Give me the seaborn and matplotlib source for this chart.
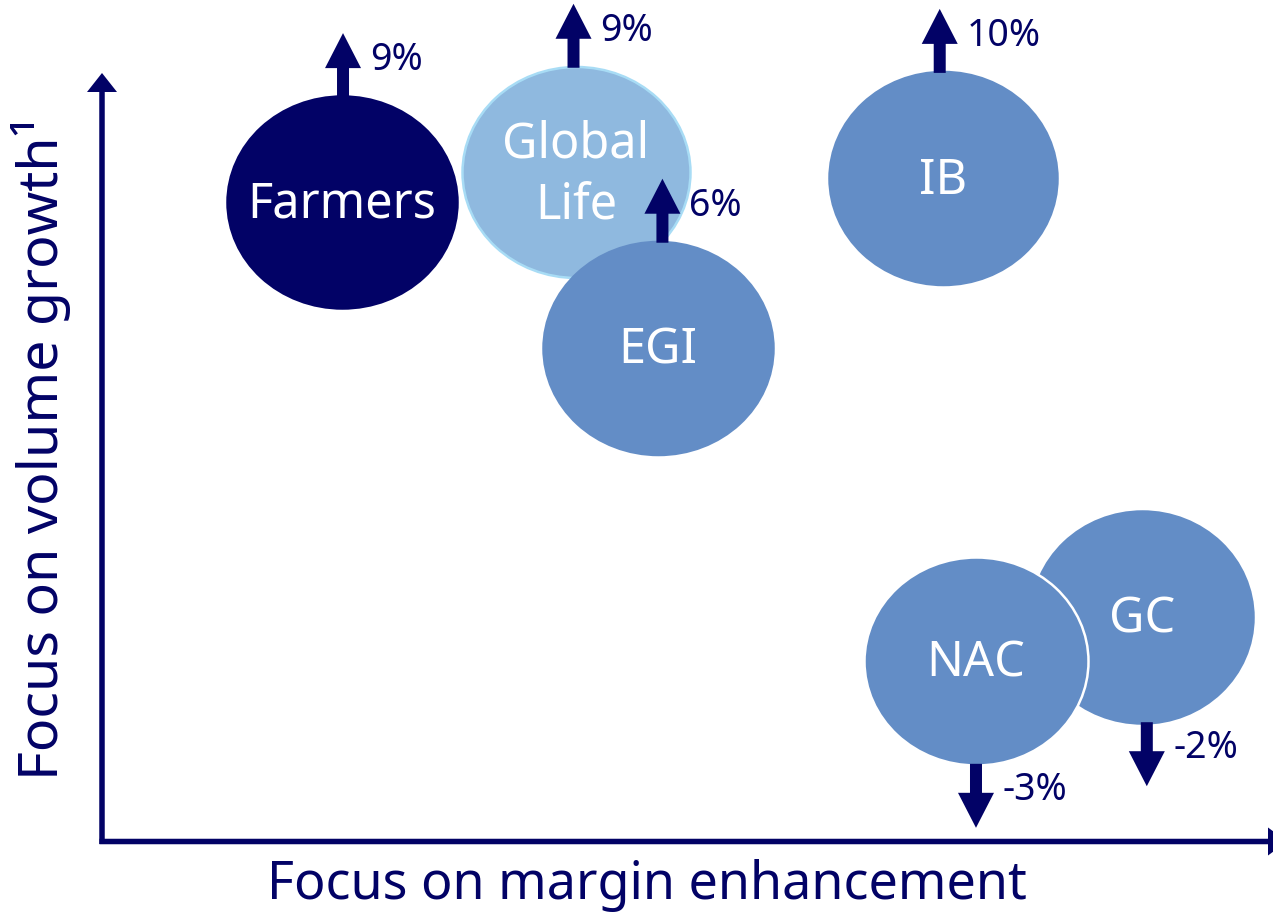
import numpy as np
import pandas as pd
import seaborn as sns
import matplotlib.pyplot as plt
from matplotlib.path import Path
from matplotlib.transforms import Affine2D

# business units: position on the two strategic axes (0-100 scale)
units = ["Farmers", "Global\nLife", "EGI", "IB", "GC", "NAC"]
margin_focus = [20.5, 40.5, 47.5, 71.9, 88.9, 74.7]
volume_focus = [83.6, 87.5, 64.5, 86.7, 29.3, 23.6]
growth = [9, 9, 6, 10, -2, -3]
growth_labels = ["9%", "9%", "6%", "10%", "-2%", "-3%"]
arrow_x = [20.6, 40.3, 47.9, 71.6, 89.3, 74.7]

navy = "#020266"
mid = "#638dc6"
light = "#8fb9df"
fills = [navy, light, mid, mid, mid, mid]
edges = [navy, "#a8dcf5", mid, mid, mid, "white"]
widths_px = [230, 228, 230, 228, 222, 224]
heights_px = [212, 211, 213, 213, 212, 208]

# pixel scale of one data unit
PX_X = 11.7
PX_Y = 7.65

df = pd.DataFrame({"unit": units, "x": margin_focus, "y": volume_focus})

sns.set_theme(style="white")
plt.rcParams["font.family"] = ["Noto Sans", "DejaVu Sans"]

fig = plt.figure(figsize=(12.73, 9.19), dpi=100)
ax = fig.add_axes([0, 0, 1, 1])
ax.set_xlim(-102 / PX_X, (1273 - 102) / PX_X)
ax.set_ylim(-(919 - 841.5) / PX_Y, 841.5 / PX_Y)
ax.axis("off")

# one elliptical bubble per unit, drawn in order so overlaps stack right
for i in range(len(units)):
    aspect = heights_px[i] / widths_px[i]
    ell = Affine2D().scale(1, aspect).transform_path(Path.unit_circle())
    sns.scatterplot(data=df.iloc[[i]], x="x", y="y", marker=ell,
                    s=(widths_px[i] * 0.72) ** 2, color=fills[i],
                    edgecolor=edges[i], linewidth=1.8, legend=False,
                    ax=ax, zorder=2)
    dy = 0.4 if "\n" in units[i] else 0.3
    ax.text(margin_focus[i], volume_focus[i] - dy, units[i], color="white",
            fontsize=35, ha="center", va="center", linespacing=1.3,
            zorder=4)

# growth arrows
alen = 64 / PX_Y
for i in range(len(units)):
    half_h = heights_px[i] / 2 / PX_Y
    sign = 1 if growth[i] > 0 else -1
    y0 = volume_focus[i] + sign * (half_h - 0.15)
    ax.arrow(arrow_x[i], y0, 0, sign * alen, width=12 / PX_X,
             head_width=36 / PX_X, head_length=35 / PX_Y,
             length_includes_head=True, color=navy, lw=0, zorder=3)
    if sign > 0:
        ty = y0 + alen - 27 / PX_Y
    else:
        ty = y0 - 26 / PX_Y
    ax.text(arrow_x[i] + 27 / PX_X, ty, growth_labels[i], color=navy,
            fontsize=27, ha="left", va="center", zorder=4)

# axis arrows
ax.arrow(0, -2.5 / PX_Y, 0, (841.5 - 73 + 2.5) / PX_Y, width=5.5 / PX_X,
         head_width=30 / PX_X, head_length=19 / PX_Y,
         length_includes_head=True, color=navy, lw=0, zorder=1)
ax.arrow(-2.5 / PX_X, 0, (1287 - 102 + 2.5) / PX_X, 0, width=5.5 / PX_Y,
         head_width=28 / PX_Y, head_length=19 / PX_X,
         length_includes_head=True, color=navy, lw=0, zorder=1,
         clip_on=False)

fig.text(647 / 1273, 1 - 886 / 919, "Focus on margin enhancement",
         color=navy, fontsize=37.5, ha="center", va="center")
fig.text(41 / 1273, 1 - 448 / 919, "Focus on volume growth\u00b9",
         color=navy, fontsize=40, ha="center", va="center", rotation=90)

fig.savefig("out.png", dpi=100, facecolor="white")
